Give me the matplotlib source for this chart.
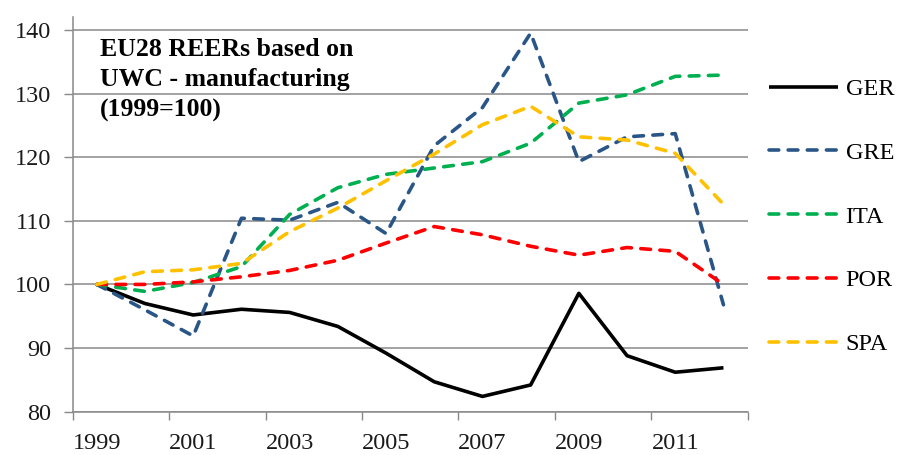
import numpy as np
import matplotlib.pyplot as plt
from matplotlib.ticker import FixedLocator, NullFormatter

plt.rcParams['font.family'] = ['Liberation Serif', 'DejaVu Serif']

years = list(range(1999, 2013))

ger = [100.0, 97.0, 95.2, 96.1, 95.6, 93.4, 89.2, 84.7, 82.4, 84.2, 98.6, 88.8, 86.2, 86.9]
gre = [100.0, 96.0, 91.9, 110.4, 110.1, 112.9, 108.0, 121.8, 127.8, 139.5, 119.3, 123.2, 123.7, 96.8]
ita = [100.0, 98.9, 100.3, 102.8, 111.0, 115.2, 117.3, 118.3, 119.3, 122.2, 128.5, 129.8, 132.7, 132.9]
por = [100.0, 100.0, 100.4, 101.2, 102.2, 103.8, 106.5, 109.1, 107.8, 106.0, 104.6, 105.8, 105.2, 100.0]
spa = [100.0, 102.0, 102.3, 103.3, 108.3, 112.0, 116.3, 120.5, 125.1, 128.0, 123.2, 122.7, 120.6, 112.6]

series = [
    ("GER", ger, "black", "solid"),
    ("GRE", gre, "#2A5687", "dashed"),
    ("ITA", ita, "#00B050", "dashed"),
    ("POR", por, "#FF0000", "dashed"),
    ("SPA", spa, "#FFC000", "dashed"),
]

grey = "#898989"

fig = plt.figure(figsize=(9.01, 4.55), dpi=100)
ax = fig.add_axes([0.0807, 0.0952, 0.749, 0.867])

x = np.arange(len(years))
for name, vals, col, ls in series:
    if ls == "solid":
        ax.plot(x, vals, color=col, lw=2.6, label=name, solid_capstyle="butt")
    else:
        ax.plot(x, vals, color=col, lw=2.6, label=name,
                dashes=(2.7, 2.6), dash_capstyle="round")

ax.set_xlim(-0.5, len(years) - 0.5)
ax.set_ylim(80, 142)
ax.set_yticks(range(80, 141, 10))
ax.yaxis.grid(True, color=grey, lw=1.1)
ax.set_axisbelow(True)

# category axis: tick marks between every 2nd category, labels at centres
ax.xaxis.set_major_locator(FixedLocator(np.arange(-0.5, len(years), 2)))
ax.xaxis.set_major_formatter(NullFormatter())
ax.xaxis.set_minor_locator(FixedLocator(x[::2]))
ax.set_xticklabels([str(y) for y in years[::2]], minor=True)
ax.tick_params(axis="x", which="major", length=5.8, width=1, color=grey, direction="out")
ax.tick_params(axis="x", which="minor", length=0, pad=15.5, labelsize=17.5, labelcolor="#1a1a1a")
ax.tick_params(axis="y", length=6.5, width=1, color=grey, pad=9, labelsize=17.5, labelcolor="#1a1a1a")

for s in ["top", "right"]:
    ax.spines[s].set_visible(False)
for s in ["left", "bottom"]:
    ax.spines[s].set_color(grey)
    ax.spines[s].set_linewidth(1.1)

fig.text(100 / 901, 1 - 38 / 455, "EU28 REERs based on\nUWC - manufacturing\n(1999=100)",
         fontsize=18.5, fontweight="bold", va="top", ha="left", linespacing=1.4)

fig.legend(loc="upper left", bbox_to_anchor=(769 / 901, 1 - 78 / 455), frameon=False,
           fontsize=17.5, handlelength=2.85, handletextpad=0.3, labelspacing=1.72,
           borderpad=0, borderaxespad=0)

fig.savefig("out.png", dpi=100)
